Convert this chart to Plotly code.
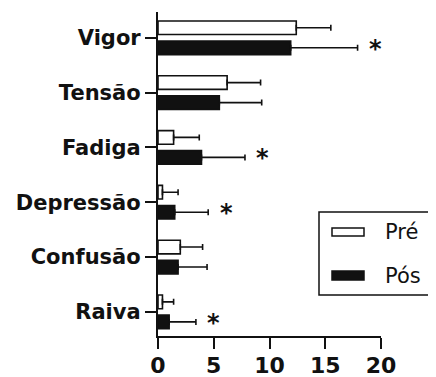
import plotly.graph_objects as go

categories = ["Vigor", "Tensão", "Fadiga", "Depressão", "Confusão", "Raiva"]
pre_mean = [12.4, 6.2, 1.4, 0.4, 2.0, 0.4]
pre_sd = [3.1, 3.0, 2.3, 1.4, 2.0, 1.0]
pos_mean = [11.9, 5.5, 3.9, 1.5, 1.8, 1.0]
pos_sd = [6.0, 3.8, 3.9, 3.0, 2.6, 2.4]
significant = [True, False, True, True, False, True]
x_ticks = [0, 5, 10, 15, 20]

FONT = "DejaVu Sans"
INK = "#111111"

fig = go.Figure()
fig.add_trace(go.Bar(
    name="Pré", y=categories, x=pre_mean, orientation="h",
    marker=dict(color="white", line=dict(color=INK, width=1.6)),
    error_x=dict(type="data", array=pre_sd, arrayminus=[0] * len(pre_sd),
                 symmetric=False, color=INK, thickness=1.6, width=3),
))
fig.add_trace(go.Bar(
    name="Pós", y=categories, x=pos_mean, orientation="h",
    marker=dict(color=INK, line=dict(color=INK, width=1.6)),
    error_x=dict(type="data", array=pos_sd, arrayminus=[0] * len(pos_sd),
                 symmetric=False, color=INK, thickness=1.6, width=3),
))

# significance stars next to the Pós error bars
for cat, m, s, sig in zip(categories, pos_mean, pos_sd, significant):
    if sig:
        fig.add_annotation(x=m + s, y=cat, text="*", showarrow=False,
                           xanchor="center", yanchor="middle",
                           xshift=18, yshift=-11,
                           font=dict(family=FONT, size=24, color=INK, weight="bold"))

# legend drawn as a boxed key (paper coordinates; plot area spans 158..381 x 12..336 px)
def px_x(p):
    return (p - 158) / 223.0

def px_y(p):
    return (336 - p) / 324.0

fig.add_shape(type="rect", xref="paper", yref="paper",
              x0=px_x(319), x1=px_x(433), y0=px_y(295), y1=px_y(212),
              line=dict(color=INK, width=1.5), fillcolor="white")
fig.add_shape(type="rect", xref="paper", yref="paper",
              x0=px_x(332), x1=px_x(364), y0=px_y(236), y1=px_y(228),
              line=dict(color=INK, width=1.5), fillcolor="white")
fig.add_shape(type="rect", xref="paper", yref="paper",
              x0=px_x(332), x1=px_x(364), y0=px_y(280), y1=px_y(271),
              line=dict(color=INK, width=1.5), fillcolor=INK)
for name, yy in [("Pré", 232), ("Pós", 276)]:
    fig.add_annotation(xref="paper", yref="paper", x=px_x(383), y=px_y(yy),
                       text=name, showarrow=False, xanchor="left", yanchor="middle",
                       font=dict(family=FONT, size=21, color=INK))

# page has an 8px body margin at top/left, so the figure is 8px smaller than the window
fig.update_layout(
    width=428, height=369,
    margin=dict(l=150, r=55, t=4, b=41, autoexpand=False),
    paper_bgcolor="white", plot_bgcolor="white",
    barmode="group", bargap=0.27, bargroupgap=0.32,
    showlegend=False,
    xaxis=dict(range=[0, 20], tickvals=x_ticks, ticktext=[str(v) for v in x_ticks],
               automargin=False,
               showgrid=False, zeroline=False,
               showline=True, linecolor=INK, linewidth=2.2,
               ticks="outside", ticklen=11, tickwidth=2.2, tickcolor=INK,
               ticklabelstandoff=-3,
               tickfont=dict(family=FONT, size=22, color=INK, weight="bold")),
    yaxis=dict(type="category", categoryorder="array", categoryarray=categories,
               range=[5.44, -0.47], automargin=False,
               showgrid=False, zeroline=False,
               showline=True, linecolor=INK, linewidth=2.2,
               ticks="outside", ticklen=11, tickwidth=2.2, tickcolor=INK,
               ticklabelstandoff=0,
               tickfont=dict(family=FONT, size=21, color=INK, weight="bold")),
)

fig.write_html("out.html")
